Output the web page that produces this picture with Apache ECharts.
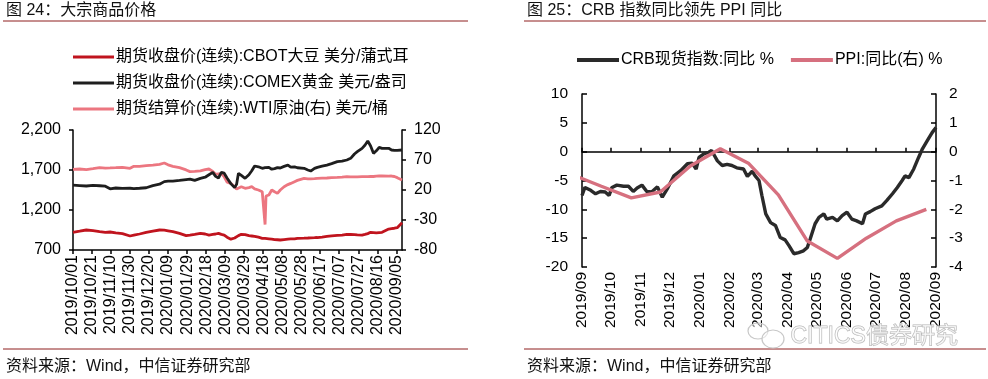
<!DOCTYPE html>
<html>
<head>
<meta charset="utf-8">
<script src="https://cdn.jsdelivr.net/npm/echarts@6/dist/echarts.min.js"></script>
<style>
html,body{margin:0;padding:0;background:#fff;}
#c{width:988px;height:379px;}
</style>
</head>
<body>
<div id="c"></div>
<script>
// ---------- Figure 24 data (daily, calendar dates) ----------
const leftDates = ['2019-10-01','2019-10-08','2019-10-15','2019-10-22','2019-10-29','2019-11-04','2019-11-09','2019-11-15','2019-11-22','2019-11-30',
'2019-12-04','2019-12-10','2019-12-17','2019-12-24','2019-12-31','2020-01-05','2020-01-09','2020-01-14','2020-01-21','2020-01-28',
'2020-02-01','2020-02-06','2020-02-12','2020-02-17','2020-02-21','2020-02-25','2020-02-28','2020-03-02','2020-03-05','2020-03-08',
'2020-03-11','2020-03-15','2020-03-19','2020-03-21','2020-03-23','2020-03-26','2020-03-30','2020-04-03','2020-04-06','2020-04-09',
'2020-04-13','2020-04-17','2020-04-18','2020-04-20','2020-04-21','2020-04-24','2020-04-27','2020-04-30','2020-05-03','2020-05-06',
'2020-05-10','2020-05-14','2020-05-17','2020-05-21','2020-05-24','2020-05-31','2020-06-04','2020-06-07','2020-06-11','2020-06-14',
'2020-06-19','2020-06-24','2020-06-29','2020-07-05','2020-07-10','2020-07-15','2020-07-19','2020-07-23','2020-07-26','2020-07-31',
'2020-08-03','2020-08-06','2020-08-09','2020-08-12','2020-08-15','2020-08-18','2020-08-21','2020-08-23','2020-08-28','2020-08-31',
'2020-09-03','2020-09-06','2020-09-08','2020-09-11'];
const goldValues = [1510,1505,1500,1508,1503,1498,1465,1475,1470,1472,
1468,1472,1478,1505,1522,1555,1560,1562,1570,1580,
1585,1570,1595,1610,1640,1670,1620,1600,1670,1660,
1600,1530,1480,1520,1658,1633,1596,1640,1690,1750,
1740,1721,1725,1730,1725,1733,1710,1717,1730,1725,
1745,1760,1735,1740,1728,1721,1700,1687,1720,1733,
1748,1762,1780,1804,1810,1825,1846,1900,1929,1971,
2010,2062,2000,1908,1940,1983,1970,1946,1971,1950,
1946,1945,1958,1950];
const soyValues = [921,935,950,942,930,921,925,915,905,875,
885,900,920,937,950,948,940,930,908,879,
885,895,908,900,887,895,900,908,895,887,
860,835,850,866,880,896,893,880,875,870,
860,846,846,845,844,840,836,830,828,825,
830,835,838,840,846,848,850,852,854,856,
862,870,877,882,886,896,894,892,889,887,
895,905,921,918,915,918,921,935,962,968,
972,979,995,1040];
const wtiValues = [54.4,55,54,55.5,57.2,56.5,56.8,57.2,57.8,56.1,
59.4,59.5,60.6,61.5,62.8,65,62,59.4,57.2,53.5,
50.6,51,52,54,55,51,46.1,47,47.2,42,
33,31,25.5,21.7,23,25.5,22.8,24,25.5,22,
20,17.2,17,-37.6,10,11.7,20,17,14.4,20,
25.5,29,31,33.9,36,39.4,38.5,38.5,39,39.4,
39.8,40,40.6,41,41.5,42.2,42,41.8,42,42.2,
42.2,42.3,42.5,42.5,43,43.3,43.3,43,43,43.3,
42.5,40.6,38.5,36.7];
const leftTickLabels = ['2019/10/01','2019/10/21','2019/11/10','2019/11/30','2019/12/20','2020/01/09','2020/01/29','2020/02/18','2020/03/09',
'2020/03/29','2020/04/18','2020/05/08','2020/05/28','2020/06/17','2020/07/07','2020/07/27','2020/08/16','2020/09/05'];
const leftStart = '2019-10-01', leftEnd = '2020-09-11';

// ---------- Figure 25 data ----------
const crbDates = ['2019-09-10','2019-09-13','2019-09-19','2019-09-24','2019-09-29','2019-10-04','2019-10-08','2019-10-11','2019-10-16','2019-10-23',
'2019-10-28','2019-11-02','2019-11-06','2019-11-11','2019-11-16','2019-11-21','2019-11-27','2019-12-02','2019-12-07','2019-12-14',
'2019-12-21','2019-12-28','2020-01-02','2020-01-06','2020-01-09','2020-01-14','2020-01-19','2020-01-22','2020-01-28','2020-02-02',
'2020-02-07','2020-02-12','2020-02-17','2020-02-24','2020-02-28','2020-03-04','2020-03-07','2020-03-11','2020-03-14','2020-03-18',
'2020-03-23','2020-03-28','2020-04-02','2020-04-07','2020-04-11','2020-04-16','2020-04-21','2020-04-26','2020-04-30','2020-05-03',
'2020-05-08','2020-05-12','2020-05-17','2020-05-20','2020-05-26','2020-05-31','2020-06-05','2020-06-10','2020-06-15','2020-06-20',
'2020-06-26','2020-06-29','2020-07-04','2020-07-09','2020-07-16','2020-07-21','2020-07-27','2020-08-01','2020-08-06','2020-08-09',
'2020-08-13','2020-08-18','2020-08-23','2020-08-27','2020-09-01','2020-09-06','2020-09-10'];
const crbValues = [-7.6,-6.2,-6.7,-7.3,-6.9,-7.0,-7.6,-6.2,-5.8,-6.0,
-6.0,-6.9,-6.3,-5.8,-6.9,-7.0,-6.1,-7.9,-6.5,-4.2,
-3.3,-2.1,-2.0,-3.0,-1.0,-0.4,-0.1,0.2,-1.6,-2.4,
-2.2,-2.4,-2.8,-3.0,-4.3,-3.4,-4.2,-5.0,-7.6,-10.8,
-12.3,-12.8,-14.9,-15.3,-16.3,-17.7,-17.5,-17.2,-16.6,-15.1,
-12.5,-11.4,-10.8,-11.7,-11.4,-12.0,-11.1,-10.5,-11.7,-12.0,
-12.5,-10.8,-10.4,-9.9,-9.4,-8.5,-7.3,-6.2,-5.0,-4.2,
-4.5,-3.0,-1.0,0.5,1.9,3.3,4.2];
const ppiDates = ['2019-08-31','2019-09-30','2019-10-31','2019-11-30','2019-12-31','2020-01-31','2020-02-29','2020-03-31','2020-04-30','2020-05-31','2020-06-30','2020-07-31','2020-08-31'];
const ppiValues = [-0.8,-1.2,-1.6,-1.4,-0.5,0.1,-0.4,-1.5,-3.1,-3.7,-3.0,-2.4,-2.0];
const rightTickLabels = ['2019/09','2019/10','2019/11','2019/12','2020/01','2020/02','2020/03','2020/04','2020/05','2020/06','2020/07','2020/08','2020/09'];
const rightStart = '2019-09-10', rightEnd = '2020-09-10';

// ---------- helpers ----------
const DAY = 86400000;
function ms(s){ const p = s.split(/[-\/]/).map(Number); return Date.UTC(p[0], p[1]-1, p[2]); }
function dayOf(s, base){ return Math.round((ms(s) - ms(base)) / DAY); }

const leftMax = dayOf(leftEnd, leftStart);
const leftTickDays = leftTickLabels.map(s => dayOf(s, leftStart));
const leftLabelMap = {}; leftTickLabels.forEach((s,i)=>{ leftLabelMap[leftTickDays[i]] = s; });

const rightMax = dayOf(rightEnd, rightStart);
const rightTickDays = rightTickLabels.map(s => dayOf(s + '/10', rightStart));
const rightLabelMap = {}; rightTickLabels.forEach((s,i)=>{ rightLabelMap[rightTickDays[i]] = s; });

const FONT = '"Liberation Sans", Arial, "Noto Sans CJK SC", sans-serif';
const pairs = (dates, vals, base) => dates.map((d,i)=>[dayOf(d, base), vals[i]]);

const chart = echarts.init(document.getElementById('c'), null, {renderer:'canvas'});
const axisLineStyle = {color:'#000', width:1.5};
const RED_LINE = '#8E1F1F';

chart.setOption({
  animation:false,
  textStyle:{fontFamily:FONT},
  grid:[
    {left:73, top:130, width:329, height:120, containLabel:false},
    {left:582, top:94, width:354, height:173, containLabel:false}
  ],
  legend:[
    {orient:'vertical', left:68, top:44, itemWidth:41, itemHeight:3, icon:'rect', itemGap:10,
     textStyle:{fontSize:16, color:'#000', fontFamily:FONT, padding:[0,0,0,-3]},
     data:['期货收盘价(连续):CBOT大豆 美分/蒲式耳','期货收盘价(连续):COMEX黄金 美元/盎司','期货结算价(连续):WTI原油(右) 美元/桶']},
    {orient:'horizontal', left:572, top:47, itemWidth:42, itemHeight:4, icon:'rect', itemGap:17,
     textStyle:{fontSize:16, color:'#000', fontFamily:FONT, padding:[0,0,0,-3]},
     data:['CRB现货指数:同比 %','PPI:同比(右) %']}
  ],
  xAxis:[
    {type:'value', gridIndex:0, min:0, max:leftMax, splitLine:{show:false},
     axisLine:{show:true, onZero:false, lineStyle:axisLineStyle},
     axisTick:{show:true, length:4, customValues:leftTickDays, lineStyle:axisLineStyle},
     axisLabel:{rotate:90, margin:5, fontSize:16, color:'#000', fontFamily:FONT, customValues:leftTickDays,
       formatter:v=>leftLabelMap[Math.round(v)] || ''}},
    {type:'value', gridIndex:1, min:0, max:rightMax, position:'bottom', splitLine:{show:false},
     axisLine:{show:false, onZero:false}, axisTick:{show:false},
     axisLabel:{rotate:90, margin:5, fontSize:15.5, color:'#000', fontFamily:FONT, customValues:rightTickDays,
       formatter:v=>rightLabelMap[Math.round(v)] || ''}},
    {type:'value', gridIndex:1, min:0, max:rightMax, splitLine:{show:false},
     axisLine:{show:true, onZero:true, onZeroAxisIndex:2, lineStyle:axisLineStyle},
     axisTick:{show:true, length:4, customValues:rightTickDays, lineStyle:axisLineStyle},
     axisLabel:{show:false}}
  ],
  yAxis:[
    {type:'value', gridIndex:0, min:700, max:2200, interval:500, splitLine:{show:false},
     axisLine:{show:true, onZero:false, lineStyle:axisLineStyle},
     axisTick:{show:true, length:4, lineStyle:axisLineStyle},
     axisLabel:{margin:12, fontSize:16, color:'#000', fontFamily:FONT, formatter:v=>v.toLocaleString('en-US')}},
    {type:'value', gridIndex:0, min:-80, max:120, interval:50, position:'right', splitLine:{show:false},
     axisLine:{show:true, onZero:false, lineStyle:axisLineStyle},
     axisTick:{show:true, length:4, lineStyle:axisLineStyle},
     axisLabel:{margin:12, fontSize:16, color:'#000', fontFamily:FONT}},
    {type:'value', gridIndex:1, min:-20, max:10, interval:5, splitLine:{show:false},
     axisLine:{show:true, onZero:false, lineStyle:axisLineStyle},
     axisTick:{show:true, inside:true, length:5, lineStyle:axisLineStyle},
     axisLabel:{margin:14, fontSize:15.5, color:'#000', fontFamily:FONT}},
    {type:'value', gridIndex:1, min:-4, max:2, interval:1, position:'right', splitLine:{show:false},
     axisLine:{show:true, onZero:false, lineStyle:axisLineStyle},
     axisTick:{show:true, inside:true, length:5, lineStyle:axisLineStyle},
     axisLabel:{margin:13, fontSize:15.5, color:'#000', fontFamily:FONT}}
  ],
  series:[
    {name:'期货收盘价(连续):CBOT大豆 美分/蒲式耳', type:'line', xAxisIndex:0, yAxisIndex:0, symbol:'none',
     color:'#C0141E', lineStyle:{width:2.8, color:'#C0141E'}, data:pairs(leftDates, soyValues, leftStart)},
    {name:'期货结算价(连续):WTI原油(右) 美元/桶', type:'line', xAxisIndex:0, yAxisIndex:1, symbol:'none',
     color:'#EC7680', lineStyle:{width:2.8, color:'#EC7680'}, data:pairs(leftDates, wtiValues, leftStart)},
    {name:'期货收盘价(连续):COMEX黄金 美元/盎司', type:'line', xAxisIndex:0, yAxisIndex:0, symbol:'none',
     color:'#1E1E1E', lineStyle:{width:2.8, color:'#1E1E1E'}, data:pairs(leftDates, goldValues, leftStart)},
    {name:'CRB现货指数:同比 %', type:'line', xAxisIndex:2, yAxisIndex:2, symbol:'none',
     color:'#2A2A2A', lineStyle:{width:3.4, color:'#2A2A2A'}, data:pairs(crbDates, crbValues, rightStart)},
    {name:'PPI:同比(右) %', type:'line', xAxisIndex:2, yAxisIndex:3, symbol:'none',
     color:'#D6707F', lineStyle:{width:3.4, color:'#D6707F'}, data:pairs(ppiDates, ppiValues, rightStart)}
  ],
  graphic:[
    {type:'text', left:6, top:3, style:{text:'图 24：大宗商品价格', fill:'#111', font:'16px ' + FONT}},
    {type:'text', left:527, top:3, style:{text:'图 25：CRB 指数同比领先 PPI 同比', fill:'#111', font:'16px ' + FONT}},
    {type:'line', shape:{x1:3, y1:21, x2:468, y2:21}, style:{stroke:RED_LINE, lineWidth:1}},
    {type:'line', shape:{x1:524, y1:21, x2:986, y2:21}, style:{stroke:RED_LINE, lineWidth:1}},
    {type:'line', shape:{x1:3, y1:349, x2:468, y2:349}, style:{stroke:RED_LINE, lineWidth:1}},
    {type:'line', shape:{x1:524, y1:349, x2:986, y2:349}, style:{stroke:RED_LINE, lineWidth:1}},
    {type:'text', left:6, top:359, style:{text:'资料来源：Wind，中信证券研究部', fill:'#111', font:'16px ' + FONT}},
    {type:'text', left:527, top:359, style:{text:'资料来源：Wind，中信证券研究部', fill:'#111', font:'16px ' + FONT}},
    {type:'ellipse', shape:{cx:758, cy:331, rx:10, ry:8}, style:{fill:'rgba(255,255,255,0.5)', stroke:'#c8c8c8', lineWidth:1.2}, z:100},
    {type:'ellipse', shape:{cx:773, cy:339, rx:11, ry:9}, style:{fill:'rgba(255,255,255,0.5)', stroke:'#c8c8c8', lineWidth:1.2}, z:100},
    {type:'text', left:790, top:325, z:100, style:{text:'CITICS债券研究', font:'23px ' + FONT, fill:'rgba(255,255,255,0.6)', stroke:'#b4b4b4', lineWidth:1}}
  ]
});
</script>
</body>
</html>
